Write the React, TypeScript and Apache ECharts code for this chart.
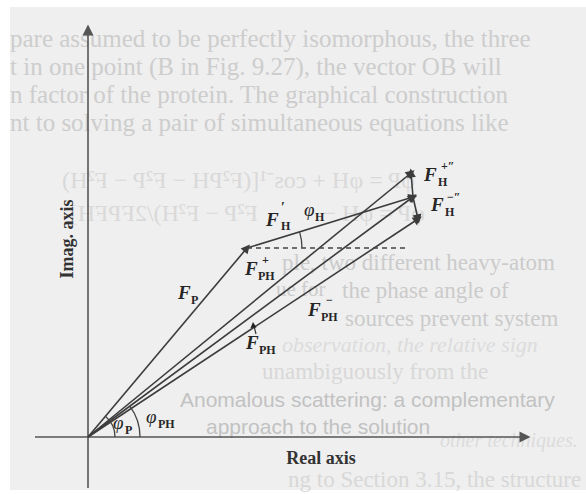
import React, { useEffect, useRef } from "react";
import * as echarts from "echarts";

// Points of the Argand diagram (real part, imaginary part), origin O
const pointNames = ["O", "A", "B", "C", "D"];
const realParts = [0, 159, 325, 323, 330];
const imagParts = [0, 189, 240, 264, 218];

// Vectors drawn as arrows: from -> to
const vectorNames = ["F_P", "F'_H", "F_PH", "F+_PH", "F+''_H", "F-_PH", "F-''_H"];
const vectorFrom = ["O", "A", "O", "O", "B", "O", "B"];
const vectorTo = ["A", "B", "B", "C", "C", "D", "D"];

// Horizontal dashed reference through A (real part where it ends)
const dashedEndReal = 320;

// Axis extents (real axis, imaginary axis)
const realAxisRange = [-53, 437];
const imagAxisRange = [-51, 407];
const axisTitles = ["Real axis", "Imag. axis"];

// Angle arcs: centre point, radius, direction of the end ray
const arcCentres = ["O", "O", "A"];
const arcRadii = [27, 52, 55];
const arcTargetsFrom = ["O", "O", "A"];
const arcTargetsTo = ["A", "B", "B"];

// Faint show-through text of the scanned page
const bgTopTexts = [
  "pare assumed to be perfectly isomorphous, the three",
  "t in one point (B in Fig. 9.27), the vector OB will",
  "n factor of the protein. The graphical construction",
  "nt to solving a pair of simultaneous equations like",
];
// mirrored formula fragments (right edge x, y)
const bgFormulaTexts = ["φP = φH + cos⁻¹[(F²PH − F²P − F²H)", "φP = φH −", "F²P − F²H)/2FPFH]"];
const bgFormulaRight = [415, 425, 258];
const bgFormulaY = [180, 213, 213];
const bgSerifTexts = [
  "ple, two different heavy-atom",
  "ue for",
  "the phase angle of",
  "sources prevent system",
  "unambiguously from the",
  "ng to Section 3.15, the structure",
];
const bgSerifX = [282, 276, 342, 345, 262, 288];
const bgSerifY = [262, 289, 290, 318, 371, 479];
const bgSerifSize = [23, 21, 23, 23, 23, 23];
const bgItalicTexts = ["observation, the relative sign", "other techniques."];
const bgItalicX = [282, 440];
const bgItalicY = [344, 440];
const bgItalicSize = [22, 20];
const bgHeadingTexts = ["Anomalous scattering: a complementary", "approach to the solution"];
const bgHeadingX = [180, 206];
const bgHeadingY = [399, 426];

function pt(name: string): number[] {
  const i = pointNames.indexOf(name);
  return [realParts[i], imagParts[i]];
}

export default function App() {
  const ref = useRef<HTMLDivElement>(null);

  useEffect(() => {
    if (!ref.current) return;
    const chart = echarts.init(ref.current, null, { renderer: "svg" });

    const ink = "#3c3c3c";
    const serif = "Liberation Serif";

    const vectorData = vectorNames.map((n, i) => ({
      name: n,
      coords: [pt(vectorFrom[i]), pt(vectorTo[i])],
    }));

    const A = pt("A");
    const arcData = arcCentres.map((c, i) => {
      const f = pt(arcTargetsFrom[i]);
      const t = pt(arcTargetsTo[i]);
      const ang = Math.atan2(t[1] - f[1], t[0] - f[0]);
      const ctr = pt(c);
      return [ctr[0], ctr[1], arcRadii[i], ang];
    });

    const texts: any[] = [];
    bgTopTexts.forEach((s, i) => {
      texts.push({
        type: "text", x: 10, y: 38 + i * 28.2, z: -5,
        style: { text: s, font: `25px '${serif}'`, fill: "#cdcdcd", verticalAlign: "middle" },
      });
    });
    bgFormulaTexts.forEach((s, i) => {
      texts.push({
        type: "text", x: bgFormulaRight[i], y: bgFormulaY[i], z: -5, scaleX: -1,
        style: { text: s, font: `24px '${serif}'`, fill: "#d9d9d9", verticalAlign: "middle" },
      });
    });
    bgSerifTexts.forEach((s, i) => {
      texts.push({
        type: "text", x: bgSerifX[i], y: bgSerifY[i], z: -5,
        style: { text: s, font: `${bgSerifSize[i]}px '${serif}'`, fill: i >= 4 ? "#d8d8d8" : "#cbcbcb", verticalAlign: "middle" },
      });
    });
    bgItalicTexts.forEach((s, i) => {
      texts.push({
        type: "text", x: bgItalicX[i], y: bgItalicY[i], z: -5,
        style: { text: s, font: `italic ${bgItalicSize[i]}px '${serif}'`, fill: "#dcdcdc", verticalAlign: "middle" },
      });
    });
    bgHeadingTexts.forEach((s, i) => {
      texts.push({
        type: "text", x: bgHeadingX[i], y: bgHeadingY[i], z: -5,
        style: { text: s, font: `21px 'Liberation Sans'`, fill: "#c2c2c2", verticalAlign: "middle" },
      });
    });

    // Diagram labels
    const lbl = (x: number, y: number, t: string, font: string) => ({
      type: "text", x, y, z: 10,
      style: { text: t, font, fill: "#262626", verticalAlign: "bottom" },
    });
    const Ff = `italic bold 19px '${serif}'`;
    const sub = `bold 12px '${serif}'`;
    const sup = `bold 12px '${serif}'`;
    const phi = `italic 19px '${serif}'`;
    texts.push(
      // F_P
      lbl(178, 302, "F", Ff), lbl(191, 306, "P", sub),
      // F+_PH
      lbl(245, 278, "F", Ff), lbl(258, 282, "PH", sub), lbl(262, 266, "+", sup),
      // F-_PH
      lbl(308, 319, "F", Ff), lbl(321, 323, "PH", sub), lbl(326, 306, "−", sup),
      // F_PH
      lbl(246, 352, "F", Ff), lbl(259, 356, "PH", sub),
      // F'_H
      lbl(266, 229, "F", Ff), lbl(281, 232, "H", sub), lbl(281, 214, "′", `bold 14px '${serif}'`),
      // phi_H
      lbl(304, 219, "φ", phi), lbl(315, 223, "H", sub),
      // F+''_H
      lbl(424, 184, "F", Ff), lbl(438, 188, "H", sub), lbl(441, 172, "+″", sup),
      // F-''_H
      lbl(431, 214, "F", Ff), lbl(445, 218, "H", sub), lbl(447, 203, "−″", sup),
      // phi_P
      lbl(113, 432, "φ", phi), lbl(125, 436, "P", sub),
      // phi_PH
      lbl(146, 426, "φ", phi), lbl(158, 430, "PH", sub)
    );
    texts.push({
      type: "text", x: 321, y: 458, z: 10,
      style: { text: axisTitles[0], font: `bold 18px '${serif}'`, fill: "#333", align: "center", verticalAlign: "middle" },
    });
    texts.push({
      type: "text", x: 67, y: 239, z: 10, rotation: Math.PI / 2,
      style: { text: axisTitles[1], font: `bold 18px '${serif}'`, fill: "#333", align: "center", verticalAlign: "middle" },
    });
    // small pointer from the F_PH label to its vector
    texts.push({
      type: "line", z: 10,
      shape: { x1: 256, y1: 334, x2: 254, y2: 326 },
      style: { stroke: "#333", lineWidth: 1.2 },
    });
    texts.push({
      type: "polygon", z: 10,
      shape: { points: [[253, 322], [250.5, 328], [256.5, 327.5]] },
      style: { fill: "#222" },
    });

    chart.setOption({
      animation: false,
      backgroundColor: "#ffffff",
      grid: { left: 0, right: 0, top: 0, bottom: 0 },
      xAxis: { type: "value", min: -88, max: 498, show: false },
      yAxis: { type: "value", min: -57, max: 437, show: false },
      graphic: [
        { type: "rect", z: -10, shape: { x: 10, y: 7, width: 576, height: 483 }, style: { fill: "#efefef" } },
        ...texts,
      ],
      series: [
        {
          type: "lines",
          coordinateSystem: "cartesian2d",
          z: 3,
          symbol: ["none", "triangle"],
          symbolSize: [8, 11],
          lineStyle: { color: "#555", width: 1.6, opacity: 1 },
          itemStyle: { color: "#222" },
          data: [
            { name: "real", coords: [[realAxisRange[0], 0], [realAxisRange[1], 0]] },
            { name: "imag", coords: [[0, imagAxisRange[0]], [0, imagAxisRange[1]]] },
          ],
        },
        {
          type: "lines",
          coordinateSystem: "cartesian2d",
          z: 4,
          symbol: ["none", "triangle"],
          symbolSize: [7, 9],
          lineStyle: { color: ink, width: 1.6, opacity: 1 },
          itemStyle: { color: "#1e1e1e" },
          data: vectorData,
        },
        {
          type: "lines",
          coordinateSystem: "cartesian2d",
          z: 4,
          symbol: ["none", "none"],
          lineStyle: { color: "#444", width: 1.5, type: [5, 4], opacity: 1 },
          data: [{ coords: [A, [dashedEndReal, A[1]]] }],
        },
        {
          type: "custom",
          coordinateSystem: "cartesian2d",
          z: 4,
          data: arcData,
          renderItem: (params: any, api: any) => {
            const c = api.coord([api.value(0), api.value(1)]);
            const r = api.value(2);
            const ang = api.value(3);
            return {
              type: "arc",
              shape: { cx: c[0], cy: c[1], r, startAngle: -ang, endAngle: 0, clockwise: true },
              style: { stroke: "#444", lineWidth: 1.3, fill: "none" },
            };
          },
        },
      ],
    });

    return () => chart.dispose();
  }, []);

  return (
    <div
      ref={ref}
      style={{ position: "absolute", left: 0, top: 0, width: 586, height: 494 }}
    />
  );
}
